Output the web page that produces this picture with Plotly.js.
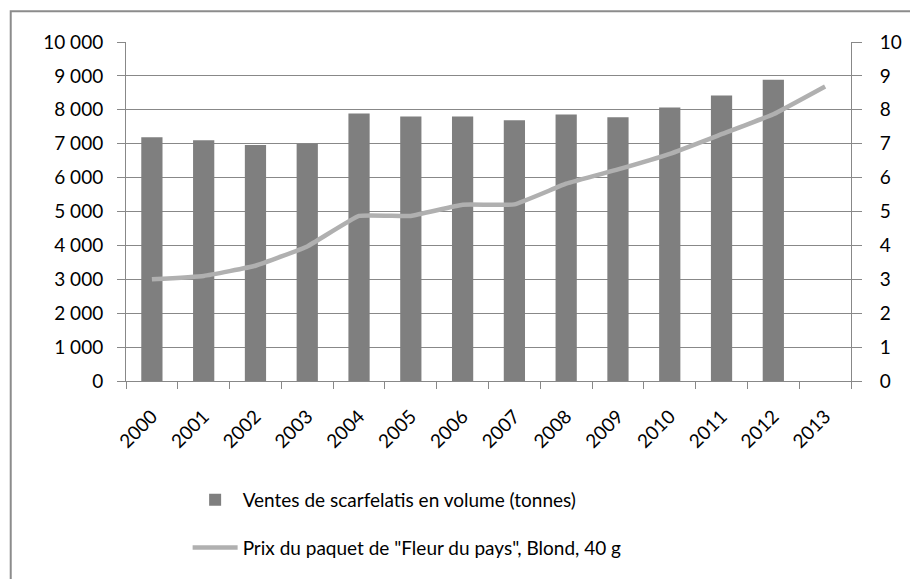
<!DOCTYPE html>
<html>
<head>
<meta charset="utf-8">
<script src="https://cdn.plot.ly/plotly-3.0.1.min.js"></script>
<style>html,body{margin:0;padding:0;background:#fff;}#chart{width:910px;height:579px;}</style>
</head>
<body>
<div id="chart"></div>
<script>
const years = ["2000","2001","2002","2003","2004","2005","2006","2007","2008","2009","2010","2011","2012","2013"];
const salesVolume = [7190, 7100, 6960, 7000, 7890, 7800, 7800, 7690, 7860, 7780, 8070, 8420, 8890, null];
const packPrice = [3.0, 3.1, 3.4, 3.97, 4.87, 4.87, 5.2, 5.21, 5.82, 6.24, 6.7, 7.28, 7.87, 8.69];
const leftTicks = [0,1000,2000,3000,4000,5000,6000,7000,8000,9000,10000];
const leftTickText = ["0","1 000","2 000","3 000","4 000","5 000","6 000","7 000","8 000","9 000","10 000"];
const salesName = "Ventes de scarfelatis en volume (tonnes)";
const priceName = "Prix du paquet de \"Fleur du pays\", Blond, 40 g";

const font = {family: "Lato, 'Open Sans', sans-serif", size: 19, color: "#000"};
const grid = "#888888";

const traces = [
  {type: "bar", x: years, y: salesVolume, name: salesName, marker: {color: "#7f7f7f"},
   legendgroup: "a", hoverinfo: "x+y"},
  {type: "scatter", mode: "lines", x: years, y: packPrice, name: priceName, yaxis: "y2",
   line: {color: "#b0b0b0", width: 4.5, shape: "spline", smoothing: 0.3}, legendgroup: "b"}
];

const layout = {
  width: 910, height: 579,
  margin: {l: 126, r: 59, t: 42, b: 195},
  paper_bgcolor: "#fff", plot_bgcolor: "#fff",
  font: font,
  bargap: 0.59,
  showlegend: true,
  legend: {x: 0.085, y: -0.295, xanchor: "left", yanchor: "top", font: {family: font.family, size: 19, color: "#000"},
           tracegroupgap: 20, itemwidth: 45, bgcolor: "rgba(0,0,0,0)"},
  xaxis: {type: "category", tickangle: -45, showline: true, linecolor: grid, linewidth: 1,
          ticks: "outside", ticklen: 7, tickcolor: grid, tickson: "boundaries",
          showgrid: false, tickfont: font, fixedrange: true, ticklabelstandoff: 16},
  yaxis: {range: [0, 10000], tickvals: leftTicks, ticktext: leftTickText, showline: true, linecolor: grid,
          ticks: "outside", ticklen: 8, tickcolor: grid, showgrid: true, gridcolor: grid, gridwidth: 1,
          zeroline: false, tickfont: font, ticklabelstandoff: 10},
  yaxis2: {range: [0, 10], dtick: 1, overlaying: "y", side: "right", showline: true, linecolor: grid,
           ticks: "outside", ticklen: 10, tickcolor: grid, showgrid: false, zeroline: false, tickfont: font,
           ticklabelstandoff: 14},
  shapes: [
    {type: "rect", xref: "paper", yref: "paper", x0: -0.159, x1: 1.2, y0: -0.7, y1: 1.091,
     line: {color: "#8c8c8c", width: 2}, fillcolor: "rgba(0,0,0,0)", layer: "below"}
  ]
};

Plotly.newPlot("chart", traces, layout, {displayModeBar: false, staticPlot: true});
</script>
</body>
</html>
